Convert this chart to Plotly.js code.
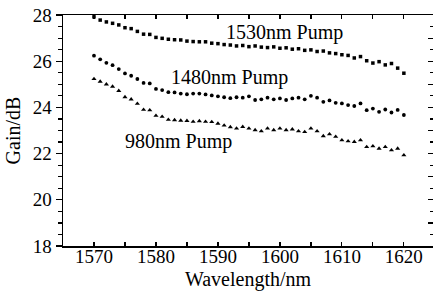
<!DOCTYPE html>
<html>
<head>
<meta charset="utf-8">
<script src="https://cdn.plot.ly/plotly-3.0.1.min.js"></script>
<style>html,body{margin:0;padding:0;background:#fff;}#chart{width:433px;height:300px;}</style>
</head>
<body>
<div id="chart"></div>
<script>
const wavelength = [1570,1571,1572,1573,1574,1575,1576,1577,1578,1579,1580,1581,1582,1583,1584,1585,1586,1587,1588,1589,1590,1591,1592,1593,1594,1595,1596,1597,1598,1599,1600,1601,1602,1603,1604,1605,1606,1607,1608,1609,1610,1611,1612,1613,1614,1615,1616,1617,1618,1619,1620];

const gain1530 = [27.92,27.78,27.70,27.64,27.57,27.45,27.41,27.29,27.17,27.16,27.03,26.99,26.95,26.93,26.92,26.87,26.85,26.84,26.84,26.78,26.76,26.72,26.70,26.66,26.68,26.63,26.66,26.61,26.59,26.62,26.56,26.58,26.52,26.54,26.47,26.49,26.42,26.44,26.36,26.33,26.28,26.25,26.14,26.20,26.02,25.92,25.98,25.84,25.90,25.70,25.48];

const gain1480 = [26.24,26.08,25.93,25.83,25.66,25.47,25.37,25.23,25.06,25.04,24.80,24.75,24.66,24.65,24.60,24.57,24.60,24.60,24.56,24.52,24.48,24.44,24.40,24.44,24.42,24.48,24.32,24.35,24.42,24.35,24.39,24.32,24.39,24.42,24.35,24.50,24.42,24.24,24.30,24.20,24.17,24.10,24.06,24.17,23.88,23.95,23.81,23.91,23.78,23.89,23.67];

const gain980 = [25.23,25.12,25.00,24.90,24.72,24.45,24.35,24.16,23.90,23.88,23.64,23.60,23.47,23.45,23.43,23.42,23.38,23.41,23.38,23.37,23.30,23.22,23.15,23.09,23.16,23.09,23.02,22.97,23.09,23.02,23.09,23.02,23.05,22.97,22.94,23.09,22.97,22.76,22.84,22.73,22.58,22.54,22.51,22.58,22.29,22.32,22.22,22.29,22.15,22.22,21.93];

const seriesLabels = ["1530nm Pump", "1480nm Pump", "980nm Pump"];

const font = "Liberation Serif, Times New Roman, serif";

const traces = [
  {x: wavelength, y: gain1530, type: 'scatter', mode: 'markers', name: seriesLabels[0],
   marker: {symbol: 'square', size: 3.5, color: '#000'}},
  {x: wavelength, y: gain1480, type: 'scatter', mode: 'markers', name: seriesLabels[1],
   marker: {symbol: 'circle', size: 3.8, color: '#000'}},
  {x: wavelength, y: gain980, type: 'scatter', mode: 'markers', name: seriesLabels[2],
   marker: {symbol: 'triangle-up', size: 4.5, color: '#000'}},
  {x: [wavelength[0]], y: [gain1530[0]], xaxis: 'x2', yaxis: 'y2', type: 'scatter', mode: 'markers',
   marker: {opacity: 0}, hoverinfo: 'skip', showlegend: false}
];

const layout = {
  width: 433, height: 300,
  margin: {l: 63, r: 0, t: 15, b: 54},
  paper_bgcolor: '#fff', plot_bgcolor: '#fff',
  showlegend: false,
  font: {family: font, color: '#000', size: 19},
  xaxis: {
    range: [1565, 1624.7], tick0: 1570, dtick: 10,
    ticks: 'inside', ticklen: 4, tickwidth: 1.2, tickcolor: '#000',
    ticklabelstandoff: -7,
    showline: true, linecolor: '#000', linewidth: 1.5,
    showgrid: false, zeroline: false,
    tickfont: {family: font, size: 19},
    minor: {tick0: 1565, dtick: 5, ticks: 'inside', ticklen: 4, tickcolor: '#000', tickwidth: 1.2, showgrid: false},
    title: {text: 'Wavelength/nm', font: {family: font, size: 20}, standoff: 5}
  },
  yaxis: {
    range: [18, 28], tick0: 18, dtick: 2,
    ticks: 'outside', ticklen: 6, tickwidth: 1.2, tickcolor: '#000',
    showline: true, linecolor: '#000', linewidth: 1.5,
    showgrid: false, zeroline: false,
    tickfont: {family: font, size: 19},
    minor: {dtick: 0.5, ticks: 'outside', ticklen: 4, tickcolor: '#000', tickwidth: 1.2, showgrid: false},
    title: {text: 'Gain/dB', font: {family: font, size: 20}, standoff: 6}
  },
  xaxis2: {
    overlaying: 'x', side: 'top', matches: 'x', range: [1565, 1624.7],
    tick0: 1565, dtick: 5, ticks: 'inside', ticklen: 4, tickwidth: 1.2, tickcolor: '#000',
    showticklabels: false, showline: true, linecolor: '#000', linewidth: 1.5,
    showgrid: false, zeroline: false
  },
  yaxis2: {
    overlaying: 'y', side: 'right', range: [18, 28],
    tick0: 18, dtick: 1, ticks: 'inside', ticklen: 5, tickwidth: 1.2, tickcolor: '#000',
    showticklabels: false, showline: false,
    minor: {dtick: 0.5, ticks: 'inside', ticklen: 3, tickcolor: '#000', tickwidth: 1.2, showgrid: false},
    showgrid: false, zeroline: false
  },
  annotations: [
    {x: 1600.8, y: 27.26, xref: 'x', yref: 'y', text: seriesLabels[0], showarrow: false,
     font: {family: font, size: 20, color: '#000'}},
    {x: 1591.8, y: 25.31, xref: 'x', yref: 'y', text: seriesLabels[1], showarrow: false,
     font: {family: font, size: 20, color: '#000'}},
    {x: 1583.7, y: 22.54, xref: 'x', yref: 'y', text: seriesLabels[2], showarrow: false,
     font: {family: font, size: 20, color: '#000'}}
  ]
};

Plotly.newPlot('chart', traces, layout, {displayModeBar: false, staticPlot: true});
</script>
</body>
</html>
